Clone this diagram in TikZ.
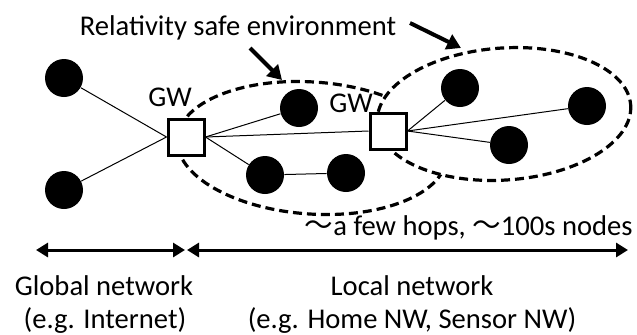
\documentclass[tikz,border=0pt]{standalone}
\usepackage{fontspec}
\setmainfont{Carlito}
\newfontfamily\cjk{Noto Sans CJK JP}
\usetikzlibrary{arrows.meta}
\begin{document}
\begin{tikzpicture}[x=0.5pt, y=-0.5pt,
    dot/.style  = {circle, fill=black, inner sep=0, minimum size=19pt},
    gw/.style   = {rectangle, draw, line width=1.5pt, fill=white, inner sep=0, minimum size=18pt},
    zone/.style = {draw, line width=1.6pt, dash pattern=on 4.5pt off 2.5pt},
    link/.style = {line width=0.5pt},
    pointer/.style = {-{Triangle[length=7pt,width=8pt]}, line width=2pt},
    span/.style = {{Triangle[length=6pt,width=7pt]}-{Triangle[length=6pt,width=7pt]}, line width=1.5pt},
    txt/.style  = {font=\fontsize{14.3}{16}\selectfont, inner sep=0, anchor=base}]
    \useasboundingbox (0,0) rectangle (637,334);

    % safe environments
    \draw[zone, rotate around={-4:(312,148)}] (312,148) ellipse [x radius=135, y radius=66];
    \draw[zone, fill=white, rotate around={4:(504,114)}] (504,114) ellipse [x radius=127, y radius=66];

    % global side
    \node[dot] (L1) at (64,78)  {};
    \node[dot] (L2) at (64,190) {};
    \node[gw]  (G1) at (186,137) {};
    \node[txt] (G1lab) at (170,106) {GW};

    % local side
    \node[dot] (A1) at (299,108) {};
    \node[dot] (A2) at (265,175) {};
    \node[dot] (A3) at (346,173) {};
    \node[gw]  (G2) at (388,131) {};
    \node[txt] (G2lab) at (351,112) {GW};
    \node[dot] (B1) at (460,88)  {};
    \node[dot] (B2) at (509,145) {};
    \node[dot] (B3) at (587,106) {};

    \draw[link] (L1) -- (G1.west);
    \draw[link] (L2) -- (G1.west);
    \draw[link] (G1.east) -- (A1);
    \draw[link] (G1.east) -- (G2.west);
    \draw[link] (G1.east) -- (A2);
    \draw[link] (A2) -- (A3);
    \draw[link] (G2.east) -- (B1);
    \draw[link] (G2.east) -- (B2);
    \draw[link] (G2.east) -- (B3);

    % caption and pointers
    \node[txt] (title) at (238,35) {Relativity safe environment};
    \coordinate (p1s) at (250,48);
    \coordinate (p1e) at (282,80);
    \coordinate (p2s) at (410,23);
    \coordinate (p2e) at (461,48);
    \draw[pointer] (p1s) -- (p1e);
    \draw[pointer] (p2s) -- (p2e);

    % scale
    \node[txt, anchor=base east] (hops) at (633,235) {{\cjk ～}a few hops, {\cjk ～}100s nodes};
    \coordinate (gl) at (36,250);
    \coordinate (gr) at (185,250);
    \coordinate (ll) at (187,250);
    \coordinate (lr) at (628,250);
    \draw[span] (gl) -- (gr);
    \draw[span] (ll) -- (lr);

    \node[txt] (glob)  at (104,295) {Global network};
    \node[txt] (globx) at (105,328) {(e.g. Internet)};
    \node[txt] (loc)   at (412,295) {Local network};
    \node[txt] (locx)  at (412,328) {(e.g. Home NW, Sensor NW)};
\end{tikzpicture}
\end{document}
